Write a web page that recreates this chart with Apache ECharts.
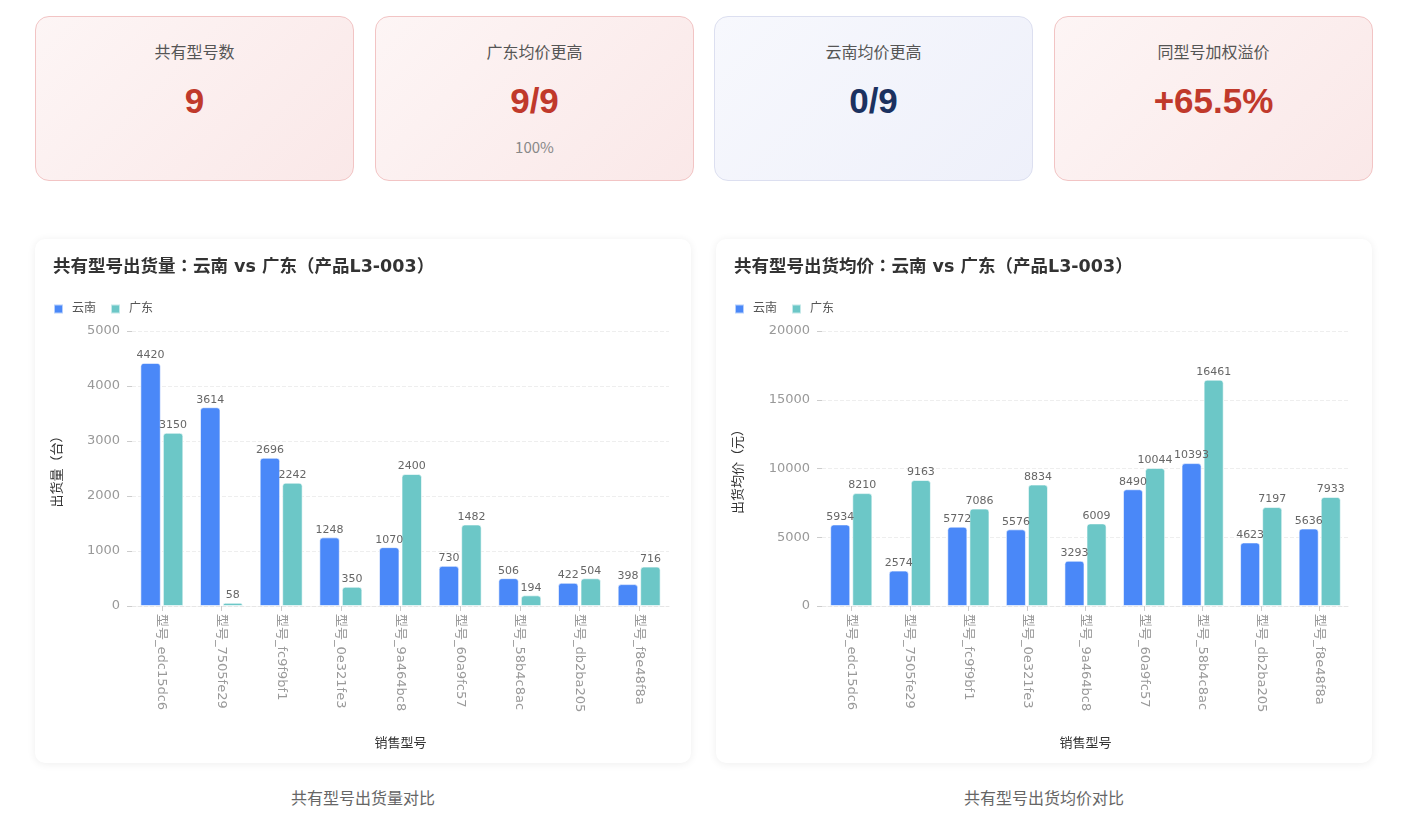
<!DOCTYPE html>
<html><head><meta charset="utf-8">
<script src="https://cdn.jsdelivr.net/npm/echarts@6/dist/echarts.min.js"></script>
<style>
html,body{margin:0;padding:0;background:#fff;width:1409px;height:823px;overflow:hidden;font-family:"Noto Sans CJK SC","Noto Sans",sans-serif;}
.kpi{position:absolute;top:16px;width:319px;height:165px;border-radius:14px;box-sizing:border-box;text-align:center;}
.red{background:linear-gradient(135deg,#fdf5f5,#fae8e8);border:1px solid #f2c4c4;}
.blue{background:linear-gradient(135deg,#f7f8fd,#eef0fa);border:1px solid #dcdff0;}
.kt{position:absolute;left:0;right:0;top:22px;font-size:16px;color:#555;}
.kv{position:absolute;left:0;right:0;top:61px;font-size:35px;font-weight:bold;font-family:"Liberation Sans",Arial,sans-serif;line-height:46px;}
.ks{position:absolute;left:0;right:0;top:119px;font-size:15px;color:#888;}
.card{position:absolute;top:239px;width:656px;height:524px;background:#fff;border-radius:10px;box-shadow:0 1px 8px rgba(0,0,0,0.07);}
.cap{position:absolute;top:785px;width:656px;text-align:center;font-size:16px;color:#666;}
</style></head><body>
<div class="kpi red" style="left:35px"><div class="kt">共有型号数</div><div class="kv" style="color:#c0392b">9</div></div>
<div class="kpi red" style="left:375px"><div class="kt">广东均价更高</div><div class="kv" style="color:#c0392b">9/9</div><div class="ks">100%</div></div>
<div class="kpi blue" style="left:714px"><div class="kt">云南均价更高</div><div class="kv" style="color:#1b3160">0/9</div></div>
<div class="kpi red" style="left:1054px"><div class="kt">同型号加权溢价</div><div class="kv" style="color:#c0392b">+65.5%</div></div>
<div class="card" id="c1" style="left:35px"></div>
<div class="card" id="c2" style="left:716px"></div>
<div class="cap" style="left:35px">共有型号出货量对比</div>
<div class="cap" style="left:716px">共有型号出货均价对比</div>
<script>
const categories = ["型号_edc15dc6","型号_7505fe29","型号_fc9f9bf1","型号_0e321fe3","型号_9a464bc8","型号_60a9fc57","型号_58b4c8ac","型号_db2ba205","型号_f8e48f8a"];
const seriesNames = ["云南","广东"];
const qtyYunnan = [4420,3614,2696,1248,1070,730,506,422,398];
const qtyGuangdong = [3150,58,2242,350,2400,1482,194,504,716];
const priceYunnan = [5934,2574,5772,5576,3293,8490,10393,4623,5636];
const priceGuangdong = [8210,9163,7086,8834,6009,10044,16461,7197,7933];
const colors = ["#4a88f8","#6cc7c7"];
const FF = '"DejaVu Sans","Noto Sans CJK JP",sans-serif';

function makeOption(title, yName, ymax, yint, a, b, gridLeft, gridRight, nameGap){
  const bar = (name, data, color) => ({
    name, type:'bar', data,
    barGap:'10%', barCategoryGap:'28%',
    itemStyle:{color, borderRadius:[3,3,0,0], borderColor:'rgba(255,255,255,0.6)', borderWidth:1},
    label:{show:true, position:'top', fontSize:11, color:'#666', distance:2, fontFamily:FF}
  });
  return {
    animation:false,
    color:colors,
    textStyle:{fontFamily:FF},
    title:{text:title, left:13, top:15, textStyle:{fontSize:17.5, fontWeight:'bold', color:'#333', fontFamily:FF}},
    legend:{data:seriesNames, left:13, top:59, itemWidth:9, itemHeight:9, itemGap:14, icon:'rect',
      textStyle:{fontSize:12, color:'#555', fontFamily:FF, padding:[0,0,0,4]}},
    grid:{left:gridLeft, right:gridRight, top:92, bottom:157},
    xAxis:{type:'category', data:categories, name:'销售型号', nameLocation:'middle', nameGap:131,
      nameTextStyle:{fontSize:13, color:'#333', fontFamily:FF},
      axisLine:{show:true, lineStyle:{color:'#e6e6e6', type:'dashed'}},
      axisTick:{show:true, alignWithLabel:true, lineStyle:{color:'#ccc'}},
      axisLabel:{rotate:-90, fontSize:13, color:'#999', margin:8, fontFamily:FF}},
    yAxis:{type:'value', min:0, max:ymax, interval:yint, name:yName, nameLocation:'middle', nameGap:nameGap,
      nameTextStyle:{fontSize:13, color:'#333', fontFamily:FF},
      axisLine:{show:false}, axisTick:{show:true, length:5, lineStyle:{color:'#ccc'}},
      axisLabel:{fontSize:13, color:'#999', margin:12, fontFamily:FF, formatter:v=>String(v)},
      splitLine:{lineStyle:{color:'#eee', type:'dashed'}}},
    series:[bar(seriesNames[0], a, colors[0]), bar(seriesNames[1], b, colors[1])]
  };
}
echarts.init(document.getElementById('c1')).setOption(makeOption('共有型号出货量：云南 vs 广东（产品L3-003）','出货量（台）',5000,1000,qtyYunnan,qtyGuangdong,97,22,68));
echarts.init(document.getElementById('c2')).setOption(makeOption('共有型号出货均价：云南 vs 广东（产品L3-003）','出货均价（元）',20000,5000,priceYunnan,priceGuangdong,106,23,77));
</script>
</body></html>
